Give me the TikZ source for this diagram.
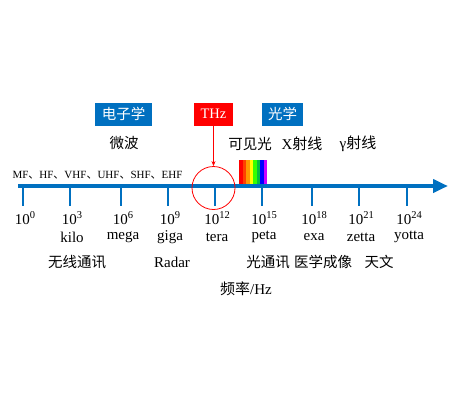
\documentclass[tikz,border=0pt]{standalone}
\usepackage{fontspec}
\setmainfont{Liberation Serif}
\newfontfamily\cjk{Noto Sans CJK SC}
\usetikzlibrary{arrows.meta}
\definecolor{axblue}{HTML}{0070C0}
\definecolor{thzred}{HTML}{FF0000}
\newcommand{\supnum}[1]{\raisebox{0.4em}{\fontsize{10.5}{12}\selectfont #1}}
\begin{document}
\begin{tikzpicture}[x=1pt,y=-1pt,
  lbl/.style={inner sep=0pt,font=\fontsize{15}{17}\selectfont},
  cjklbl/.style={inner sep=0pt,font=\fontsize{14.5}{16}\selectfont\cjk},
  tagbox/.style={fill=#1,text=white,minimum height=23pt,inner sep=0pt,font=\fontsize{14.5}{16}\selectfont},
  tick/.style={axblue,line width=2pt}]
\useasboundingbox (0,0) rectangle (460,400);
% axis
\coordinate (axs) at (18,186);
\coordinate (axe) at (448,186);
\draw[axblue,line width=4pt,-{Triangle[length=15pt,width=13pt]}] (axs) -- (axe);
% ticks and labels
\foreach \x/\e/\n [count=\i] in {23/0/,70/3/kilo,121/6/mega,168/9/giga,215/12/tera,262/15/peta,312/18/exa,359/21/zetta,407/24/yotta}{
  \coordinate (t\i) at (\x,186);
  \coordinate (b\i) at (\x,206);
  \draw[tick] (t\i) -- (b\i);
  \node[lbl] (p\i) at (\x+2,218) {10\supnum{\e}};
  \node[lbl] (n\i) at (\x+2,237) {\n};
}
% bottom labels
\node[cjklbl] (wx) at (77,262) {无线通讯};
\node[lbl] (radar) at (172,262) {Radar};
\node[cjklbl] (gtx) at (268,262) {光通讯};
\node[cjklbl] (yx) at (323,262) {医学成像};
\node[cjklbl] (tw) at (379,262) {天文};
\node[lbl] (freq) at (246,289) {{\cjk 频率}/Hz};
% top boxes
\node[tagbox=axblue,minimum width=57pt] (dzx) at (123.5,114) {\cjk 电子学};
\node[tagbox=thzred,minimum width=39pt] (thz) at (213.5,114) {THz};
\node[tagbox=axblue,minimum width=41pt] (gx) at (282.5,114) {\cjk 光学};
% middle labels
\node[cjklbl] (wb) at (124,143) {微波};
\node[cjklbl] (kjg) at (250,144) {可见光};
\node[lbl] (xsx) at (302,144) {X{\cjk 射线}};
\node[lbl] (gsx) at (358,144) {γ{\cjk 射线}};
\node[inner sep=0pt,font=\fontsize{11}{13}\selectfont] (bands) at (97.5,175) {MF{\cjk 、}HF{\cjk 、}VHF{\cjk 、}UHF{\cjk 、}SHF{\cjk 、}EHF};
% red circle and arrow
\node[draw=thzred,circle,minimum size=43pt,inner sep=0pt,line width=0.8pt] (ring) at (213.5,188) {};
\draw[thzred,line width=0.6pt,-{Stealth[length=5pt,width=4pt]}] (thz.south) -- (ring.north);
% spectrum
\foreach \c [count=\k from 0] in {FF0000,FF4000,FF9900,FFFF00,33FF00,00C040,0000FF,CC00FF}{
  \definecolor{sp}{HTML}{\c}
  \fill[sp] (239+\k*3.5,160) rectangle (239+\k*3.5+3.5,184);
}
\end{tikzpicture}
\end{document}
